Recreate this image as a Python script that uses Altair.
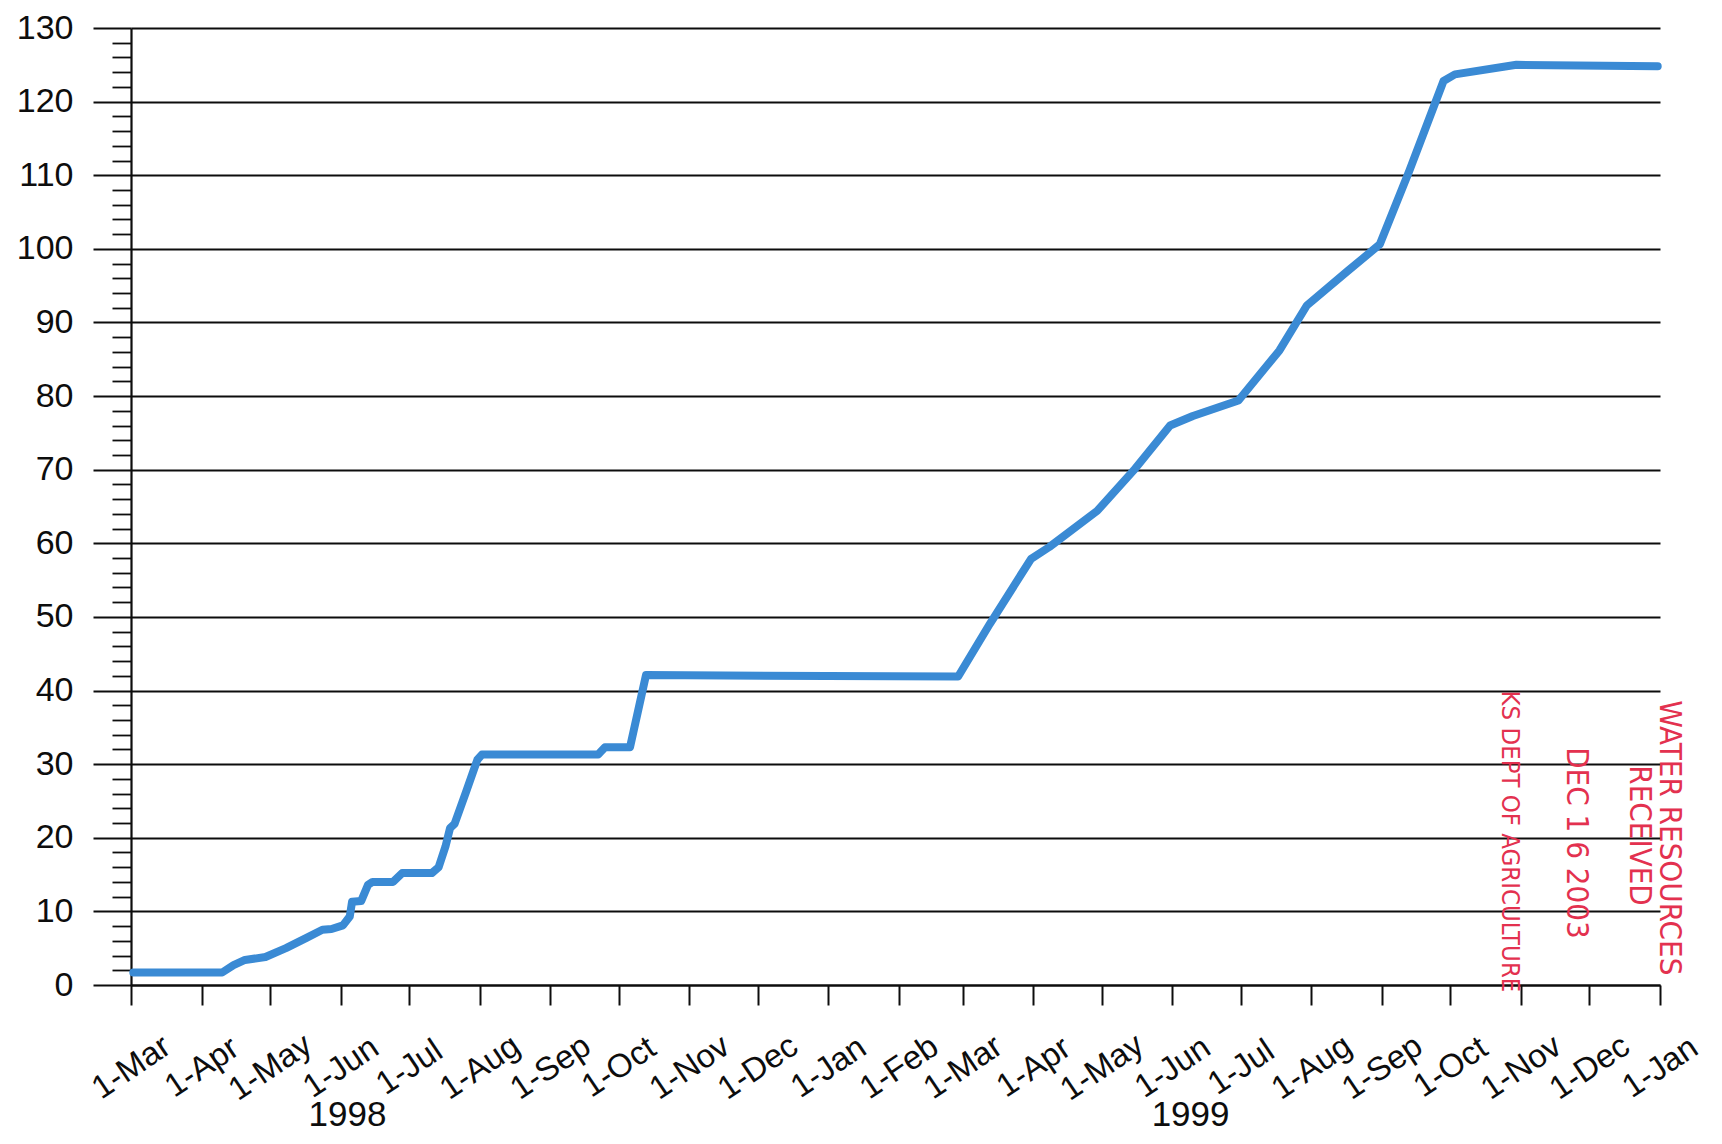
import altair as alt
import pandas as pd

# ---- data ----
dates = [
    "1998-03-02", "1998-04-10", "1998-04-15", "1998-04-20", "1998-04-29",
    "1998-05-08", "1998-05-17", "1998-05-24", "1998-05-28", "1998-06-02",
    "1998-06-05", "1998-06-06", "1998-06-10", "1998-06-13", "1998-06-15",
    "1998-06-24", "1998-06-28", "1998-07-11", "1998-07-14", "1998-07-17",
    "1998-07-19", "1998-07-21", "1998-07-26", "1998-07-31", "1998-08-02",
    "1998-09-22", "1998-09-25", "1998-10-06", "1998-10-13", "1999-02-27",
    "1999-03-13", "1999-03-31", "1999-04-08", "1999-04-29", "1999-05-15",
    "1999-05-31", "1999-06-10", "1999-06-30", "1999-07-18", "1999-07-30",
    "1999-08-17", "1999-08-31", "1999-09-13", "1999-09-28", "1999-10-03",
    "1999-10-30", "1999-12-31",
]
values = [
    1.7, 1.7, 2.7, 3.4, 3.8,
    5.0, 6.4, 7.5, 7.6, 8.1,
    9.3, 11.3, 11.4, 13.6, 14.0,
    14.0, 15.2, 15.2, 16.0, 18.8,
    21.3, 21.9, 26.2, 30.6, 31.3,
    31.3, 32.3, 32.3, 42.1, 41.9,
    49.1, 57.9, 59.5, 64.4, 69.9,
    76.0, 77.3, 79.4, 86.2, 92.3,
    97.0, 100.6, 110.6, 122.8, 123.7,
    125.0, 124.8,
]

year_labels = ["1998", "1999"]
year_dates = ["1998-06-04", "1999-06-09"]
year_values = [-17.6, -17.6]

stamp_labels = ["KS DEPT OF AGRICULTURE", "DEC 1 6 2003", "RECEIVED", "WATER RESOURCES"]
stamp_dates = ["1999-10-27", "1999-11-25", "1999-12-23", "2000-01-05"]
stamp_values = [19.5, 19.3, 20.3, 20.0]

y_tick_values = list(range(0, 131, 2))

FONT = "Liberation Sans"
STAMP_FONT = "DejaVu Sans Condensed, Liberation Sans Narrow, Liberation Sans, sans-serif"
STAMP_COLOR = "#e3314f"
INK = "#0d0d0d"

df = pd.DataFrame({"date": [d + "T00:00:00" for d in dates], "value": values})
years_df = pd.DataFrame({"date": [d + "T00:00:00" for d in year_dates],
                         "value": year_values, "label": year_labels})
stamp_df = pd.DataFrame({"date": [d + "T00:00:00" for d in stamp_dates],
                         "value": stamp_values, "label": stamp_labels})

month_ticks = [alt.DateTime(year=y, month=m, date=1)
               for (y, m) in [(1998, m) for m in range(3, 13)]
               + [(1999, m) for m in range(1, 13)] + [(2000, 1)]]

x_scale = alt.Scale(domain=[alt.DateTime(year=1998, month=3, date=1),
                            alt.DateTime(year=2000, month=1, date=1)], nice=False)
y_scale = alt.Scale(domain=[0, 130], nice=False, zero=False)

major = "datum.value % 10 === 0"

x_axis = alt.Axis(
    title=None, values=month_ticks, tickCount=100, format="%-d-%b", grid=False,
    tickSize=20, tickWidth=2, tickColor=INK,
    domain=True, domainColor=INK, domainWidth=2.2,
    labelAngle=-34, labelAlign="center", labelBaseline="middle",
    labelPadding=62, labelFont=FONT, labelFontSize=33, labelColor=INK,
    labelOverlap=False, labelFlush=False,
)
y_axis = alt.Axis(
    title=None, values=y_tick_values, tickCount=200, format="d",
    labelExpr="datum.value % 10 === 0 ? datum.label : ''",
    tickSize={"condition": {"test": major, "value": 38}, "value": 19},
    tickWidth={"condition": {"test": major, "value": 2.2}, "value": 1.8},
    tickColor=INK,
    grid=True, gridColor=INK, gridWidth=2.2,
    gridOpacity={"condition": {"test": major, "value": 1}, "value": 0},
    domain=True, domainColor=INK, domainWidth=2.2,
    labelPadding=20, labelFont=FONT, labelFontSize=34, labelColor=INK,
    labelOverlap=False, labelFlush=False,
)

line = alt.Chart(df).mark_line(
    color="#3a8ad4", strokeWidth=8, strokeCap="round", strokeJoin="round"
).encode(
    x=alt.X("date:T", scale=x_scale, axis=x_axis),
    y=alt.Y("value:Q", scale=y_scale, axis=y_axis),
)

years = alt.Chart(years_df).mark_text(
    font=FONT, fontSize=35, color=INK, align="center", baseline="middle"
).encode(x="date:T", y="value:Q", text="label:N")


def stamp(label, size, bold=False):
    return alt.Chart(stamp_df).transform_filter(
        alt.datum.label == label
    ).mark_text(
        font=STAMP_FONT, fontSize=size, color=STAMP_COLOR, angle=90,
        align="center", baseline="middle",
        fontWeight="bold" if bold else "normal",
    ).encode(x="date:T", y="value:Q", text="label:N")


chart = alt.layer(
    line, years,
    stamp("KS DEPT OF AGRICULTURE", 25.5),
    stamp("DEC 1 6 2003", 31),
    stamp("RECEIVED", 31),
    stamp("WATER RESOURCES", 31),
).properties(
    width=1529, height=957,
    autosize=alt.AutoSizeParams(type="none"),
    padding={"left": 123, "top": 20, "right": 54, "bottom": 150},
    background="white",
).configure_view(stroke=None)

chart.save("out.html", embed_options={"renderer": "svg", "actions": False})
